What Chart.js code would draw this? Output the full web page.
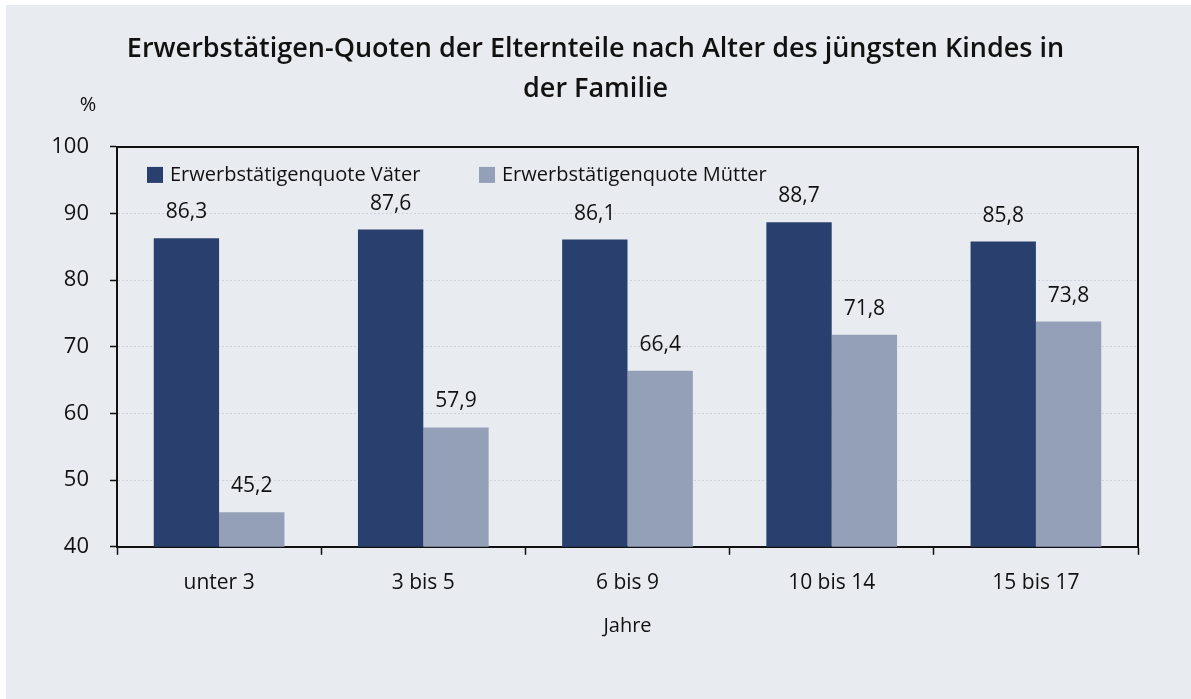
<!DOCTYPE html>
<html><head><meta charset="utf-8">
<script src="https://cdn.jsdelivr.net/npm/chart.js@4.4.1/dist/chart.umd.min.js"></script>
<style>html,body{margin:0;padding:0;background:#fff;}#wrap{position:absolute;left:0;top:0;width:1191px;height:699px;}</style>
</head><body><div id="wrap"><canvas id="c" width="1191" height="699"></canvas></div>
<script>
const categories = ["unter 3", "3 bis 5", "6 bis 9", "10 bis 14", "15 bis 17"];
const vaeter = [86.3, 87.6, 86.1, 88.7, 85.8];
const muetter = [45.2, 57.9, 66.4, 71.8, 73.8];
const seriesNames = ["Erwerbstätigenquote Väter", "Erwerbstätigenquote Mütter"];
const titleLines = ["Erwerbstätigen-Quoten der Elternteile nach Alter des jüngsten Kindes in", "der Familie"];
const yTicks = [40, 50, 60, 70, 80, 90, 100];
const FONT = "'Open Sans', 'Noto Sans', sans-serif";

const bgPlugin = {
  id: 'bg',
  beforeDraw(chart) {
    const ctx = chart.ctx;
    ctx.save();
    ctx.fillStyle = '#e8ebf0';
    ctx.fillRect(6, 5, chart.width - 6, chart.height - 5);
    ctx.restore();
  },
  afterDraw(chart) {
    const ctx = chart.ctx, a = chart.chartArea;
    ctx.save();
    ctx.strokeStyle = '#111';
    ctx.lineWidth = 2;
    ctx.beginPath();
    ctx.moveTo(a.left, a.top); ctx.lineTo(a.right, a.top); ctx.lineTo(a.right, a.bottom);
    ctx.stroke();
    ctx.fillStyle = '#111';
    ctx.font = "20px " + FONT;
    ctx.textAlign = 'center'; ctx.textBaseline = 'middle';
    ctx.fillText('%', 88, 105);
    ctx.font = "20px " + FONT;
    ctx.textAlign = 'left';
    const ly = a.top + 28;
    let lx = a.left + 30;
    chart.data.datasets.forEach((ds, i) => {
      ctx.fillStyle = ds.backgroundColor;
      ctx.fillRect(lx, ly - 8, 16, 16);
      ctx.fillStyle = '#111';
      ctx.fillText(ds.label, lx + 23, ly);
      lx += 332;
    });
    ctx.textAlign = 'center'; ctx.textBaseline = 'middle';
    ctx.font = "21px " + FONT;
    chart.data.datasets.forEach((ds, i) => {
      const meta = chart.getDatasetMeta(i);
      meta.data.forEach((bar, j) => {
        ctx.fillText(ds.data[j].toFixed(1).replace('.', ','), bar.x, bar.y - 26);
      });
    });
    ctx.restore();
  }
};

new Chart(document.getElementById('c'), {
  type: 'bar',
  data: {
    labels: categories,
    datasets: [
      { label: seriesNames[0], data: vaeter, backgroundColor: '#29406e' },
      { label: seriesNames[1], data: muetter, backgroundColor: '#94a0b8' }
    ]
  },
  options: {
    responsive: false,
    animation: false,
    layout: { padding: { left: 53, right: 53, top: 0, bottom: 51 } },
    datasets: { bar: { categoryPercentage: 0.64, barPercentage: 1.0 } },
    plugins: {
      legend: { display: false },
      tooltip: { enabled: false },
      title: {
        display: true, text: titleLines, color: '#111',
        font: { family: FONT, size: 27, weight: '600', lineHeight: 1.48 },
        padding: { top: 29, bottom: 38 }
      }
    },
    scales: {
      y: {
        min: 40, max: 100,
        afterBuildTicks(s) { s.ticks = yTicks.map(v => ({ value: v })); },
        afterFit(s) { s.width = 64; },
        ticks: { color: '#111', font: { family: FONT, size: 22 }, padding: 21 },
        grid: { color: '#cdd1d8', lineWidth: 1, tickColor: '#111', tickLength: 7, tickWidth: 1.5 },
        border: { color: '#111', width: 2, dash: [2, 2] }
      },
      x: {
        ticks: { color: '#111', font: { family: FONT, size: 21 }, padding: 16 },
        grid: { offset: true, drawOnChartArea: false, tickColor: '#111', tickLength: 8, tickWidth: 1.5 },
        border: { color: '#111', width: 2 },
        title: { display: true, text: 'Jahre', color: '#111', font: { family: FONT, size: 20 }, padding: { top: 2, bottom: 10 } }
      }
    }
  },
  plugins: [bgPlugin]
});
</script></body></html>
